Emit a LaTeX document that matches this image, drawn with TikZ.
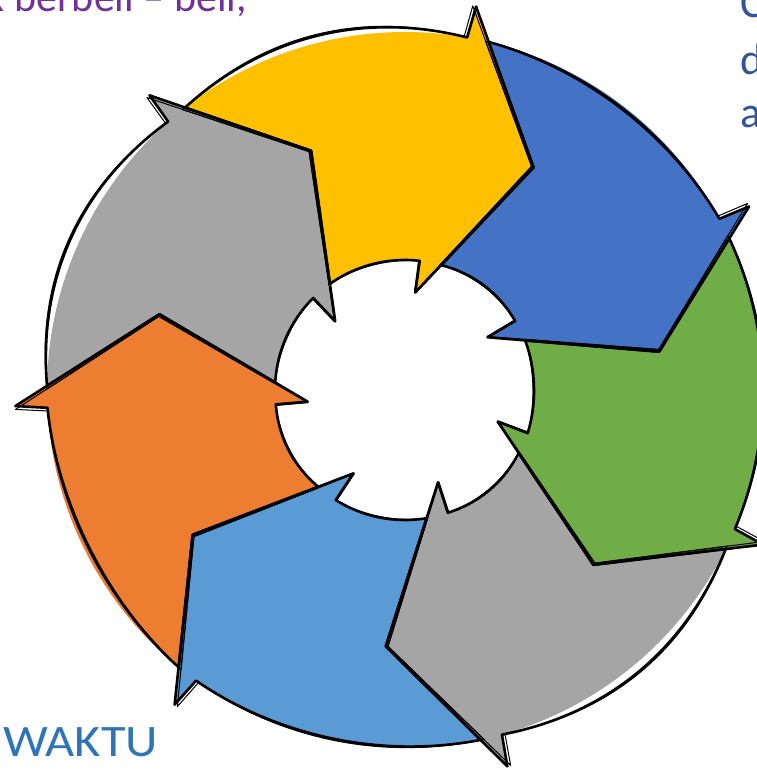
\documentclass[tikz,border=0pt]{standalone}
\usepackage{fontspec}
\setmainfont{Carlito}
\definecolor{cyel}{HTML}{FFC000}
\definecolor{cblu}{HTML}{4472C4}
\definecolor{cgrn}{HTML}{70AD47}
\definecolor{cgry}{HTML}{A5A5A5}
\definecolor{clbl}{HTML}{5B9BD5}
\definecolor{corg}{HTML}{ED7D31}
\definecolor{cpurple}{HTML}{7030A0}
\definecolor{ctxtblue}{HTML}{2F5597}
\definecolor{cwaktu}{HTML}{2E75B6}
\tikzset{
  arrowline/.style={draw=black,line width=2.6pt,line join=round},
  sketchline/.style={draw=black,line width=1pt,line join=round},
  sidetext/.style={inner sep=0pt,font=\fontsize{44}{53}\selectfont,text=ctxtblue,anchor=base west}
}
\newcommand\cyclearrow[4]{%
  \pgfmathsetmacro\arrA{#1+46.43}%
  \pgfmathsetmacro\arrB{#1-1.5}%
  \pgfmathsetmacro\arrC{#1-2}%
  \pgfmathsetmacro\arrD{#1-21.5}%
  \pgfmathsetmacro\arrE{#1+2.5}%
  \pgfmathsetmacro\arrF{#1+2}%
  \pgfmathsetmacro\arrG{#1+43.78}%
  \pgfmathsetmacro\arrN{#1+29.93}%
  \path[#2] (\arrA:358) -- plot[domain=\arrA:\arrB,samples=40]
    ({(358+(#3)*sin(180*(\x-\arrA)/(\arrB-\arrA)))*cos(\x)},{(358+(#3)*sin(180*(\x-\arrA)/(\arrB-\arrA)))*sin(\x)})
    -- (\arrC:390) -- (\arrD:257) -- (\arrE:98) -- (\arrF:130)
    -- plot[domain=\arrF:\arrG,samples=30]
    ({(130+(#4)*sin(180*(\x-\arrF)/(\arrG-\arrF)))*cos(\x)},{(130+(#4)*sin(180*(\x-\arrF)/(\arrG-\arrF)))*sin(\x)})
    -- (\arrN:257) -- cycle;
}
\begin{document}
\begin{tikzpicture}[x=1pt,y=1pt]
\useasboundingbox (0,0) rectangle (756,771);
\fill[white] (0,0) rectangle (756,771);
\begin{scope}[shift={(405,381)}]
  \foreach \k/\col in {0/cyel,1/cblu,2/cgrn,3/cgry,4/clbl,5/corg,6/cgry}{
    \pgfmathsetmacro\hh{81.5-51.4286*\k}
    \cyclearrow{\hh}{fill=\col}{0}{0}
  }
  \foreach \k/\bo/\bi in {0/7/0,1/-3/1,2/0/-1,3/8/1,4/-2/0,5/-5/1,6/9/0}{
    \pgfmathsetmacro\hh{81.5-51.4286*\k}
    \cyclearrow{\hh}{arrowline}{\bo}{\bi}
    \pgfmathsetmacro\hj{\hh+0.5}
    \cyclearrow{\hj}{sketchline}{\bo+1.5}{\bi-1}
  }
\end{scope}
\node[inner sep=0pt,anchor=base east,text=cpurple,font=\fontsize{42}{50}\selectfont] (toptext) at (247,759) {k berbeli – beli,};
\node[sidetext] (sideC) at (740,753) {C};
\node[sidetext] (sideD) at (740,696) {d};
\node[sidetext] (sideA) at (740,643) {a};
\node[inner sep=0pt,anchor=base west,text=cwaktu,font=\fontsize{45}{54}\selectfont,xscale=1.12] (waktu) at (3,14) {WAKTU};
\end{tikzpicture}
\end{document}
